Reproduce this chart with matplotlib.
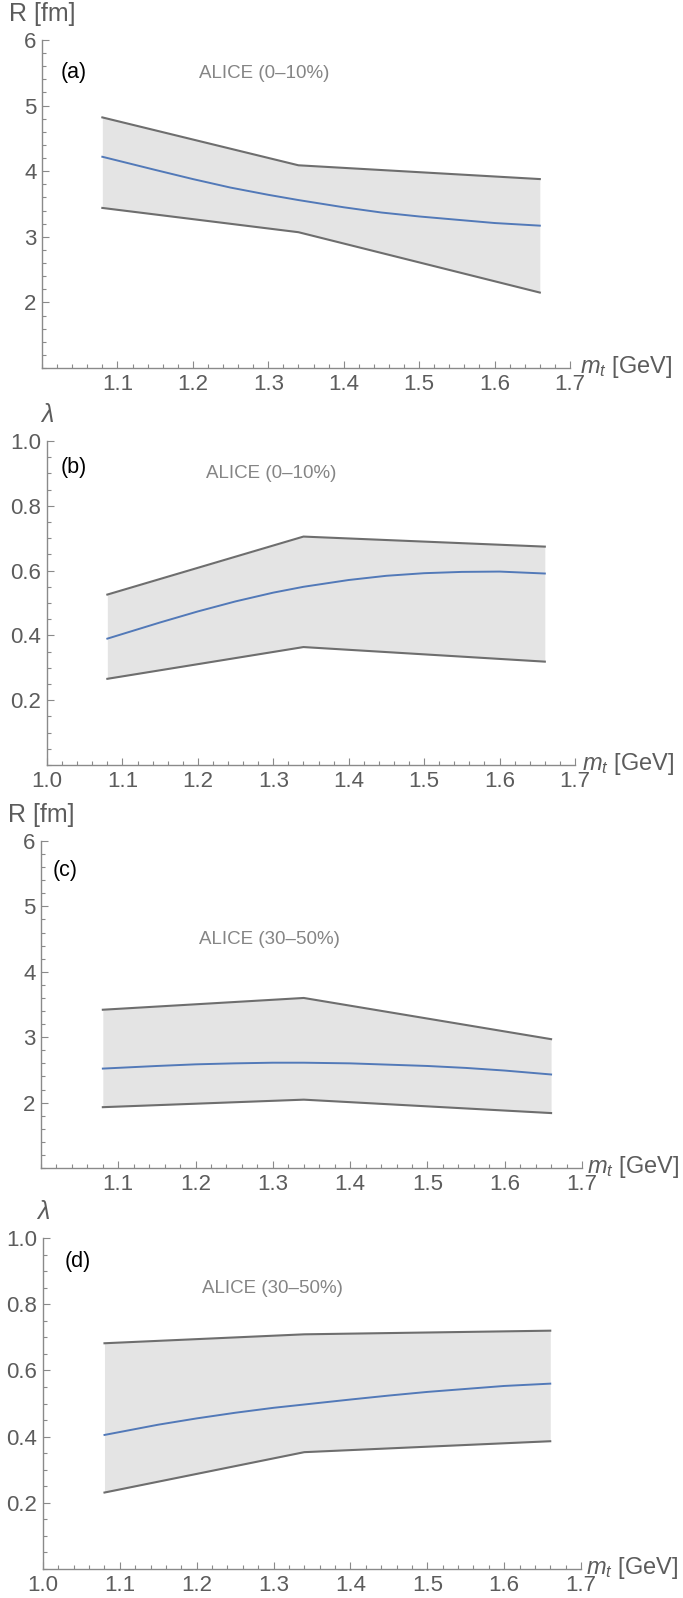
"""Four stacked panels: R and lambda bands vs m_t for ALICE centralities."""

import matplotlib
matplotlib.use("Agg")
import matplotlib.pyplot as plt
from matplotlib.ticker import FixedLocator, MultipleLocator, FormatStrFormatter

plt.rcParams["font.family"] = ["Liberation Sans", "DejaVu Sans"]
plt.rcParams["mathtext.fontset"] = "custom"
plt.rcParams["mathtext.it"] = "Liberation Sans:italic"
plt.rcParams["mathtext.rm"] = "Liberation Sans"

# band edges, sampled at the three m_t bins
MT = [1.08, 1.34, 1.66]

R_0_10_UPPER = [4.82, 4.09, 3.88]
R_0_10_LOWER = [3.44, 3.07, 2.15]
LAM_0_10_UPPER = [0.526, 0.705, 0.674]
LAM_0_10_LOWER = [0.266, 0.364, 0.319]
R_30_50_UPPER = [3.42, 3.60, 2.97]
R_30_50_LOWER = [1.93, 2.045, 1.84]
LAM_30_50_UPPER = [0.682, 0.709, 0.720]
LAM_30_50_LOWER = [0.231, 0.353, 0.386]

# blue curves
CURVE_MT = [1.08, 1.15, 1.20, 1.25, 1.30, 1.34, 1.40, 1.45, 1.50, 1.55, 1.60, 1.66]
R_0_10_CURVE = [4.22, 4.02, 3.88, 3.75, 3.64, 3.56, 3.45, 3.37, 3.31, 3.26, 3.21, 3.17]
LAM_0_10_CURVE = [0.390, 0.440, 0.474, 0.505, 0.532, 0.550, 0.571, 0.584, 0.592, 0.596, 0.597, 0.591]
R_30_50_CURVE = [2.52, 2.56, 2.585, 2.60, 2.61, 2.61, 2.60, 2.58, 2.56, 2.53, 2.49, 2.43]
LAM_30_50_CURVE = [0.405, 0.436, 0.455, 0.472, 0.487, 0.497, 0.512, 0.524, 0.535, 0.544, 0.553, 0.560]

X_TICKS_SHORT = [1.1, 1.2, 1.3, 1.4, 1.5, 1.6, 1.7]
X_TICKS_FULL = [1.0, 1.1, 1.2, 1.3, 1.4, 1.5, 1.6, 1.7]
R_TICKS = [2, 3, 4, 5, 6]
LAM_TICKS = [0.2, 0.4, 0.6, 0.8, 1.0]

W, H = 683, 1598
AXIS_GRAY = "#8a8a8a"
LABEL_GRAY = "#5c5c5c"


def _box(left, right, top, bottom):
    """Pixel box (from top-left) -> figure fraction rect."""
    return [left / W, 1 - bottom / H, (right - left) / W, (bottom - top) / H]


def _panel(ax, upper, lower, curve, ylim, yticks, yminor, ylabel, xticks,
           tag, tag_xy, alice, alice_xy, ylabel_italic=False, xlabel_gap=10):
    ax.fill_between(MT, lower, upper, color="#e4e4e4", lw=0)
    ax.plot(MT, upper, color="#6e6e6e", lw=1.5)
    ax.plot(MT, lower, color="#6e6e6e", lw=1.5)
    ax.plot(CURVE_MT, curve, color="#5279b8", lw=1.4)

    ax.set_xlim(1.0, 1.7)
    ax.set_ylim(*ylim)
    for side in ("top", "right"):
        ax.spines[side].set_visible(False)
    for side in ("left", "bottom"):
        ax.spines[side].set_color(AXIS_GRAY)
        ax.spines[side].set_linewidth(1.0)

    ax.xaxis.set_major_locator(FixedLocator(xticks))
    ax.xaxis.set_minor_locator(MultipleLocator(0.02))
    ax.yaxis.set_major_locator(FixedLocator(yticks))
    ax.yaxis.set_minor_locator(MultipleLocator(yminor))
    ax.xaxis.set_major_formatter(FormatStrFormatter("%.1f"))
    ax.yaxis.set_major_formatter(FormatStrFormatter("%.1f" if ylim[1] <= 1.0 else "%d"))
    ax.tick_params(which="both", direction="in", color=AXIS_GRAY,
                   labelcolor=LABEL_GRAY, labelsize=16, width=0.8)
    ax.tick_params(which="major", length=5, pad=4)
    ax.tick_params(which="minor", length=3)

    ax.annotate(ylabel, xy=(0, 1), xycoords="axes fraction", xytext=(0, 14),
                textcoords="offset pixels", ha="center", va="bottom",
                fontsize=18, color=LABEL_GRAY,
                fontstyle="italic" if ylabel_italic else "normal")
    ax.annotate(r"$m_t$ [GeV]", xy=(1, 0), xycoords="axes fraction",
                xytext=(xlabel_gap, -5), textcoords="offset pixels", ha="left",
                va="baseline", fontsize=17, color=LABEL_GRAY)

    ax.text(*tag_xy, tag, fontsize=15.5, color="black", ha="center", va="center")
    ax.text(*alice_xy, alice, fontsize=13.5, color="#858585", ha="center", va="center")


fig = plt.figure(figsize=(W / 100, H / 100), dpi=100)

ax_a = fig.add_axes(_box(42, 570, 40, 368))
_panel(ax_a, R_0_10_UPPER, R_0_10_LOWER, R_0_10_CURVE, (1, 6), R_TICKS, 0.2,
       "R [fm]", X_TICKS_SHORT, "(a)", (1.042, 5.50), "ALICE (0\u201310%)", (1.295, 5.49),
       xlabel_gap=10)

ax_b = fig.add_axes(_box(47, 575, 441, 765))
_panel(ax_b, LAM_0_10_UPPER, LAM_0_10_LOWER, LAM_0_10_CURVE, (0, 1), LAM_TICKS, 0.05,
       "\u03bb", X_TICKS_FULL, "(b)", (1.036, 0.918), "ALICE (0\u201310%)", (1.297, 0.90),
       ylabel_italic=True, xlabel_gap=7)

ax_c = fig.add_axes(_box(41, 582, 841, 1168))
_panel(ax_c, R_30_50_UPPER, R_30_50_LOWER, R_30_50_CURVE, (1, 6), R_TICKS, 0.2,
       "R [fm]", X_TICKS_SHORT, "(c)", (1.031, 5.55), "ALICE (30\u201350%)", (1.296, 4.50),
       xlabel_gap=5)

ax_d = fig.add_axes(_box(43, 581, 1238, 1569))
_panel(ax_d, LAM_30_50_UPPER, LAM_30_50_LOWER, LAM_30_50_CURVE, (0, 1), LAM_TICKS, 0.05,
       "\u03bb", X_TICKS_FULL, "(d)", (1.045, 0.93), "ALICE (30\u201350%)", (1.298, 0.848),
       ylabel_italic=True, xlabel_gap=5)

fig.savefig("out.png", dpi=100)
plt.close(fig)
